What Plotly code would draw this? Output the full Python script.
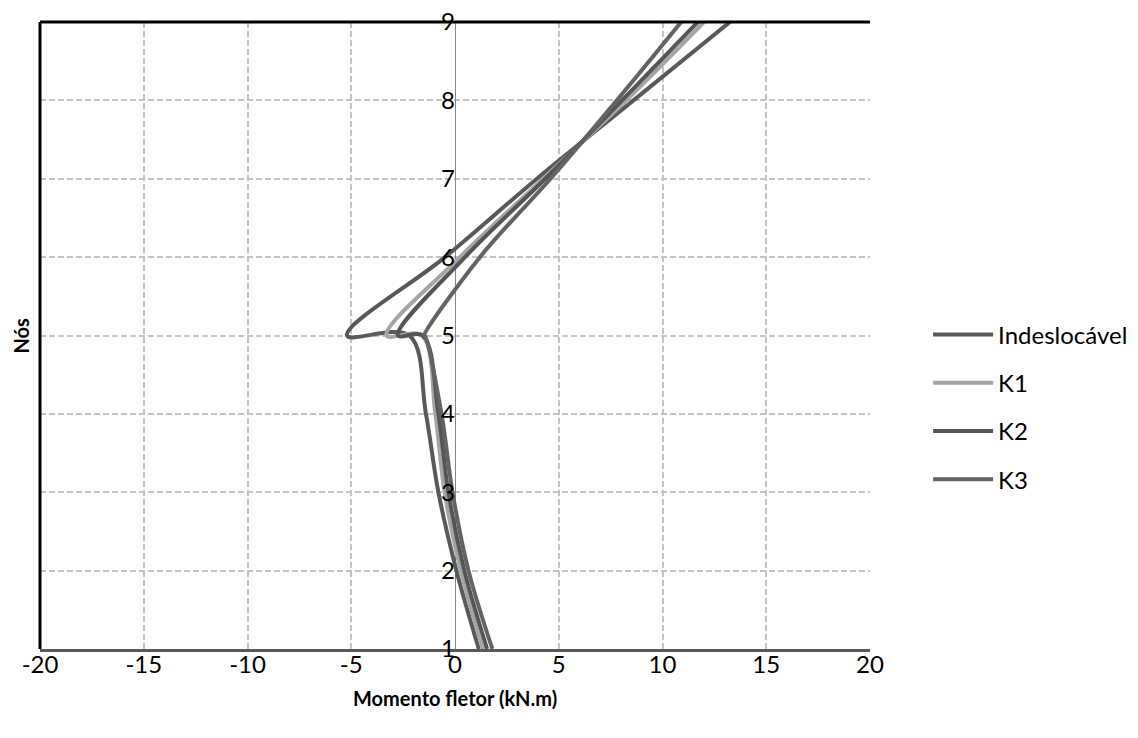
import plotly.graph_objects as go

# Node positions (node 5 appears twice: moment jump at the joint)
nodes = [1, 2, 3, 4, 5, 5, 6, 7, 8, 9]

# Bending moment values (kN.m)
indeslocavel = [1.15, 0.07, -0.80, -1.40, -2.20, -5.20, -0.48, 3.95, 8.60, 13.25]
k1 = [1.35, 0.28, -0.50, -0.95, -1.60, -3.30, 0.24, 4.25, 8.25, 12.00]
k2 = [1.55, 0.45, -0.32, -0.80, -1.55, -2.75, 0.48, 4.35, 8.05, 11.70]
k3 = [1.80, 0.65, -0.12, -0.65, -1.45, -1.50, 1.20, 4.60, 7.80, 10.90]

series_names = ["Indeslocável", "K1", "K2", "K3"]
series_values = [indeslocavel, k1, k2, k3]
series_colors = ["#595959", "#a5a5a5", "#555555", "#636363"]

x_ticks = [-20, -15, -10, -5, 0, 5, 10, 15, 20]
y_ticks = [1, 2, 3, 4, 5, 6, 7, 8, 9]

FONT = "Lato, 'Open Sans', sans-serif"
TICK_SIZE = 24
TITLE_SIZE = 20

fig = go.Figure()
for name, vals, col in zip(series_names, series_values, series_colors):
    fig.add_trace(go.Scatter(
        x=vals, y=nodes, name=name, mode="lines",
        line=dict(color=col, width=4, shape="spline", smoothing=1.0),
        legendgroup=name,
    ))

fig.update_layout(
    width=1138, height=738,
    margin=dict(l=40, r=268, t=22, b=89, autoexpand=False),
    paper_bgcolor="white", plot_bgcolor="white",
    font=dict(family=FONT, size=TICK_SIZE, color="#000000"),
    showlegend=True,
    legend=dict(
        x=1.07, y=0.386, xanchor="left", yanchor="middle",
        font=dict(family=FONT, size=TICK_SIZE, color="#000000"),
        tracegroupgap=14, itemwidth=60,
        bgcolor="rgba(0,0,0,0)",
    ),
    xaxis=dict(
        range=[-20, 20], tickvals=x_ticks, ticktext=[str(v) for v in x_ticks],
        showgrid=True, gridcolor="#c4c4c4", gridwidth=1.5, griddash="6px,3px",
        zeroline=True, zerolinecolor="#868686", zerolinewidth=1,
        showline=True, linecolor="#595959", linewidth=3,
        ticks="", tickfont=dict(size=TICK_SIZE), ticklabelstandoff=-8,
        automargin=False,
    ),
    yaxis=dict(
        range=[1, 9], tickvals=y_ticks, ticktext=[str(v) for v in y_ticks],
        showgrid=True, gridcolor="#c4c4c4", gridwidth=1.5, griddash="6px,3px",
        zeroline=False, showline=False, ticks="",
        anchor="free", position=0.5, side="left",
        tickfont=dict(size=TICK_SIZE), automargin=False,
    ),
    shapes=[
        dict(type="line", xref="paper", yref="paper", x0=0, x1=1, y0=1, y1=1,
             line=dict(color="#000000", width=3)),
        dict(type="line", xref="paper", yref="paper", x0=0, x1=0, y0=0, y1=1,
             line=dict(color="#000000", width=3)),
    ],
    annotations=[
        dict(text="<b>Momento fletor (kN.m)</b>", xref="paper", yref="paper",
             x=0.5, y=-0.078, xanchor="center", yanchor="middle",
             showarrow=False, font=dict(size=TITLE_SIZE, family=FONT)),
        dict(text="<b>Nós</b>", xref="paper", yref="paper", x=-0.024, y=0.5,
             xanchor="center", yanchor="middle",
             textangle=-90, showarrow=False, font=dict(size=TITLE_SIZE, family=FONT)),
    ],
)

fig.write_html("out.html", config={"displayModeBar": False},
               post_script="document.body.style.margin='0';")
